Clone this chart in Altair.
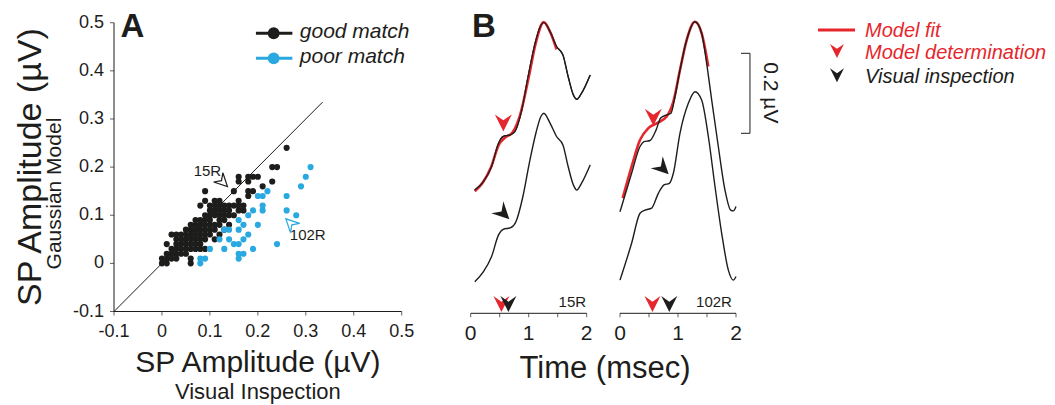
import altair as alt
import pandas as pd

FONT = "Liberation Sans"
BLACK = "#1d1d1b"
BLUE = "#29a9e0"
RED = "#e5272d"
CHEVRON = "M-1,-1L0,1L1,-1L0,-0.3Z"

# ---------------- data: panel A ----------------
good_x = [0.00, 0.00, 0.01, 0.01, 0.01, 0.01, 0.02, 0.02, 0.02, 0.02,
          0.03, 0.03, 0.03, 0.03, 0.03, 0.03, 0.04, 0.04, 0.04, 0.04, 0.04,
          0.05, 0.05, 0.05, 0.05, 0.05, 0.05,
          0.06, 0.06, 0.06, 0.06, 0.06, 0.06, 0.06, 0.06,
          0.07, 0.07, 0.07, 0.07, 0.07, 0.07, 0.07,
          0.08, 0.08, 0.08, 0.08, 0.08, 0.08, 0.08, 0.08,
          0.09, 0.09, 0.09, 0.09, 0.09, 0.09, 0.09, 0.09, 0.09,
          0.10, 0.10, 0.10, 0.10, 0.10, 0.10, 0.10,
          0.11, 0.11, 0.11, 0.11, 0.11, 0.11, 0.11,
          0.12, 0.12, 0.12, 0.12, 0.12, 0.12, 0.12,
          0.13, 0.13, 0.13, 0.13, 0.13,
          0.14, 0.14, 0.14, 0.14,
          0.15, 0.15, 0.15,
          0.16, 0.16, 0.16, 0.16, 0.16,
          0.17, 0.17,
          0.18, 0.18, 0.18, 0.18,
          0.19, 0.19, 0.20, 0.21, 0.23, 0.23, 0.24, 0.26]
good_y = [0.00, 0.01, 0.00, 0.01, 0.02, 0.04, 0.01, 0.02, 0.03, 0.06,
          0.01, 0.02, 0.03, 0.04, 0.05, 0.06, 0.02, 0.03, 0.04, 0.05, 0.06,
          0.02, 0.03, 0.04, 0.05, 0.06, 0.07,
          0.00, 0.01, 0.03, 0.04, 0.05, 0.06, 0.07, 0.08,
          0.03, 0.04, 0.05, 0.06, 0.07, 0.08, 0.09,
          0.03, 0.04, 0.05, 0.06, 0.07, 0.08, 0.09, 0.12,
          0.03, 0.05, 0.06, 0.07, 0.08, 0.09, 0.10, 0.13, 0.15,
          0.06, 0.07, 0.08, 0.09, 0.10, 0.11, 0.12,
          0.05, 0.07, 0.08, 0.10, 0.11, 0.12, 0.13,
          0.06, 0.08, 0.09, 0.10, 0.11, 0.12, 0.13,
          0.07, 0.09, 0.10, 0.11, 0.12,
          0.08, 0.10, 0.11, 0.12,
          0.10, 0.12, 0.15,
          0.11, 0.12, 0.13, 0.17, 0.18,
          0.11, 0.12,
          0.14, 0.15, 0.17, 0.18,
          0.15, 0.18, 0.18, 0.16, 0.17, 0.20, 0.20, 0.24]
poor_x = [0.08, 0.08, 0.09, 0.10, 0.12, 0.13, 0.13, 0.14, 0.14, 0.15, 0.16, 0.16,
          0.16, 0.16, 0.16, 0.17, 0.17, 0.17, 0.18, 0.18, 0.19, 0.19, 0.20, 0.20,
          0.21, 0.21, 0.21, 0.22, 0.24, 0.26, 0.26, 0.28, 0.29, 0.30, 0.31]
poor_y = [0.00, 0.01, 0.01, 0.03, 0.05, 0.03, 0.07, 0.07, 0.05, 0.04, 0.07, 0.04,
          0.01, 0.02, 0.09, 0.08, 0.05, 0.02, 0.06, 0.10, 0.03, 0.11, 0.08, 0.14,
          0.11, 0.12, 0.14, 0.15, 0.04, 0.11, 0.14, 0.10, 0.16, 0.18, 0.20]
identity_line = [-0.1, 0.335]
ticks_a = [-0.1, 0, 0.1, 0.2, 0.3, 0.4, 0.5]
tick_labels_a = ["-0.1", "0", "0.1", "0.2", "0.3", "0.4", "0.5"]

# ---------------- data: panel B ----------------
t15_top = [0.07, 0.22, 0.36, 0.48, 0.56, 0.68, 0.76, 0.88, 0.99, 1.11, 1.2, 1.26,
           1.37, 1.48, 1.59, 1.68, 1.77, 1.83, 1.91, 2.06]
v15_top = [0.308, 0.329, 0.367, 0.425, 0.442, 0.446, 0.454, 0.508, 0.592, 0.675, 0.717, 0.727,
           0.704, 0.667, 0.646, 0.592, 0.546, 0.535, 0.55, 0.596]
t15_fit = [0.07, 0.2, 0.35, 0.48, 0.6, 0.72, 0.85, 1.0, 1.12, 1.26, 1.38, 1.48]
v15_fit = [0.305, 0.325, 0.365, 0.42, 0.44, 0.452, 0.495, 0.59, 0.675, 0.728, 0.70, 0.66]
t15_bot = [0.07, 0.22, 0.36, 0.48, 0.56, 0.69, 0.78, 0.9, 1.01, 1.13, 1.21, 1.26,
           1.37, 1.48, 1.59, 1.68, 1.77, 1.83, 1.91, 2.06]
v15_bot = [0.079, 0.104, 0.142, 0.196, 0.21, 0.214, 0.229, 0.292, 0.375, 0.454, 0.492, 0.5,
           0.475, 0.442, 0.421, 0.367, 0.321, 0.308, 0.325, 0.371]
t102_top = [0.0, 0.2, 0.345, 0.414, 0.517, 0.621, 0.701, 0.805, 0.879, 0.948, 1.034, 1.149,
            1.293, 1.408, 1.494, 1.581, 1.695, 1.81, 1.908, 1.954, 2.0]
v102_top = [0.254, 0.35, 0.417, 0.429, 0.432, 0.458, 0.488, 0.496, 0.5, 0.542, 0.608, 0.683,
            0.729, 0.7, 0.625, 0.533, 0.417, 0.308, 0.258, 0.256, 0.267]
t102_fit = [0.046, 0.2, 0.345, 0.489, 0.632, 0.805, 0.92, 1.034, 1.149, 1.293, 1.408, 1.523]
v102_fit = [0.288, 0.367, 0.433, 0.463, 0.475, 0.492, 0.529, 0.608, 0.683, 0.729, 0.70, 0.617]
t102_bot = [0.0, 0.2, 0.345, 0.431, 0.546, 0.661, 0.759, 0.851, 0.92, 1.034, 1.178, 1.293,
            1.408, 1.523, 1.638, 1.753, 1.868, 1.954, 2.0]
v102_bot = [0.083, 0.175, 0.25, 0.258, 0.263, 0.3, 0.321, 0.325, 0.35, 0.45, 0.525, 0.554,
            0.533, 0.442, 0.317, 0.2, 0.108, 0.083, 0.092]
ticks_b = [0, 0.5, 1, 1.5, 2]
tick_labels_b = [0, 1, 2]
model_time = [0.53, 0.56]      # 15R, 102R
visual_time = [0.65, 0.85]     # 15R, 102R
scale_bar = [0.45, 0.65]       # 0.2 uV

# ---------------- scales (pixel ranges) ----------------
A_X = dict(domain=[-0.1, 0.5], range=[106, 393.7])
A_Y = dict(domain=[-0.1, 0.5], range=[303.5, 14.7])
BL_X = dict(domain=[0, 2], range=[462.7, 578.7])
BR_X = dict(domain=[0, 2], range=[612, 728])
B_Y = dict(domain=[0, 0.8], range=[305.3, -14.7])


def enc(xs, ys, x2=False, y2=False, text=False):
    e = dict(
        x=alt.X("x:Q", scale=alt.Scale(nice=False, zero=False, **xs), axis=None),
        y=alt.Y("y:Q", scale=alt.Scale(nice=False, zero=False, **ys), axis=None),
    )
    if x2:
        e["x2"] = alt.X2("x2:Q")
    if y2:
        e["y2"] = alt.Y2("y2:Q")
    if text:
        e["text"] = alt.Text("label:N")
    return e


def df(**cols):
    return pd.DataFrame(cols)


def txt(data, xs, ys, **kw):
    base = dict(font=FONT, color=BLACK)
    base.update(kw)
    return alt.Chart(data).mark_text(**base).encode(**enc(xs, ys, text=True))


layers = []

# ---- Panel A ----
layers.append(alt.Chart(df(x=[identity_line[0]], x2=[identity_line[1]],
                           y=[identity_line[0]], y2=[identity_line[1]]))
              .mark_rule(color=BLACK, strokeWidth=1).encode(**enc(A_X, A_Y, x2=True, y2=True)))
layers.append(alt.Chart(df(x=good_x, y=good_y)).mark_circle(size=38, color=BLACK, opacity=1)
              .encode(**enc(A_X, A_Y)))
layers.append(alt.Chart(df(x=poor_x, y=poor_y)).mark_circle(size=38, color=BLUE, opacity=1)
              .encode(**enc(A_X, A_Y)))
# axes A
layers.append(alt.Chart(df(x=[-0.1], x2=[0.5], y=[-0.1])).mark_rule(color=BLACK, strokeWidth=1)
              .encode(**enc(A_X, A_Y, x2=True)))
layers.append(alt.Chart(df(x=[-0.1], y=[-0.1], y2=[0.5])).mark_rule(color=BLACK, strokeWidth=1)
              .encode(**enc(A_X, A_Y, y2=True)))
layers.append(alt.Chart(df(x=ticks_a, y=[-0.1] * len(ticks_a)))
              .mark_tick(orient="vertical", size=4, thickness=1, yOffset=2, color=BLACK)
              .encode(**enc(A_X, A_Y)))
layers.append(alt.Chart(df(x=[-0.1] * len(ticks_a), y=ticks_a))
              .mark_tick(orient="horizontal", size=4, thickness=1, xOffset=-2, color=BLACK)
              .encode(**enc(A_X, A_Y)))
layers.append(txt(df(x=ticks_a, y=[-0.1] * len(ticks_a), label=tick_labels_a), A_X, A_Y,
                  fontSize=18, dy=20, align="center", baseline="middle"))
layers.append(txt(df(x=[-0.1] * len(ticks_a), y=ticks_a, label=tick_labels_a), A_X, A_Y,
                  fontSize=18, dx=-10, align="right", baseline="middle"))
layers.append(txt(df(x=[0.2], y=[-0.1], label=["SP Amplitude (µV)"]), A_X, A_Y,
                  fontSize=30, dy=60, align="center", baseline="alphabetic"))
layers.append(txt(df(x=[0.2], y=[-0.1], label=["Visual Inspection"]), A_X, A_Y,
                  fontSize=22, dy=87, align="center", baseline="alphabetic"))
layers.append(txt(df(x=[-0.273], y=[0.2], label=["SP Amplitude (µV)"]), A_X, A_Y,
                  fontSize=34, angle=270, align="center", baseline="middle"))
layers.append(txt(df(x=[-0.223], y=[0.145], label=["Gaussian Model"]), A_X, A_Y,
                  fontSize=21, angle=270, align="center", baseline="middle"))
layers.append(txt(df(x=[-0.0615], y=[0.471], label=["A"]), A_X, A_Y,
                  fontSize=33, fontWeight="bold", align="center", baseline="alphabetic"))
# legend A
for col, yy, name in [(BLACK, 0.478, "good match"), (BLUE, 0.426, "poor match")]:
    layers.append(alt.Chart(df(x=[0.196], x2=[0.272], y=[yy])).mark_rule(color=col, strokeWidth=3)
                  .encode(**enc(A_X, A_Y, x2=True)))
    layers.append(alt.Chart(df(x=[0.233], y=[yy])).mark_circle(size=140, color=col, opacity=1)
                  .encode(**enc(A_X, A_Y)))
    layers.append(txt(df(x=[0.2875], y=[yy - 0.0104], label=[name]), A_X, A_Y,
                      fontSize=21, fontStyle="italic", align="left", baseline="alphabetic"))
# annotations A
layers.append(txt(df(x=[0.0948], y=[0.191], label=["15R"]), A_X, A_Y,
                  fontSize=15, align="center", baseline="middle"))
layers.append(txt(df(x=[0.304], y=[0.058], label=["102R"]), A_X, A_Y,
                  fontSize=15, align="center", baseline="middle"))
layers.append(alt.Chart(df(x=[0.127], y=[0.169]))
              .mark_point(shape=CHEVRON, size=170, angle=315, filled=False, color=BLACK, strokeWidth=1.2, opacity=1)
              .encode(**enc(A_X, A_Y)))
layers.append(alt.Chart(df(x=[0.268], y=[0.083]))
              .mark_point(shape=CHEVRON, size=170, angle=135, filled=False, color=BLUE, strokeWidth=1.2, opacity=1)
              .encode(**enc(A_X, A_Y)))

# ---- Panel B ----
def trace(t, v, xs, col, w):
    return (alt.Chart(df(x=t, y=v)).mark_line(color=col, strokeWidth=w, interpolate="monotone")
            .encode(**enc(xs, B_Y)))


layers.append(trace(t15_top, v15_top, BL_X, BLACK, 1.4))
layers.append(trace(t15_fit, v15_fit, BL_X, RED, 2.6))
layers.append(trace(t15_top, v15_top, BL_X, BLACK, 1.2))
layers.append(trace(t15_bot, v15_bot, BL_X, BLACK, 1.4))
layers.append(trace(t102_fit, v102_fit, BR_X, RED, 2.6))
layers.append(trace(t102_top, v102_top, BR_X, BLACK, 1.4))
layers.append(trace(t102_bot, v102_bot, BR_X, BLACK, 1.4))


def arrow(xs, t, v, col, ang, size):
    return (alt.Chart(df(x=[t], y=[v]))
            .mark_point(shape=CHEVRON, size=size, angle=ang, filled=True, color=col, opacity=1, strokeWidth=0)
            .encode(**enc(xs, B_Y)))


layers.append(arrow(BL_X, 0.563, 0.476, RED, 0, 289))
layers.append(arrow(BL_X, 0.563, 0.25, BLACK, 315, 289))
layers.append(arrow(BR_X, 0.575, 0.49, RED, 0, 289))
layers.append(arrow(BR_X, 0.736, 0.3625, BLACK, 315, 289))
for xs, mt, vt in [(BL_X, model_time[0], visual_time[0]), (BR_X, model_time[1], visual_time[1])]:
    layers.append(arrow(xs, mt, 0.023, RED, 0, 256))
    layers.append(arrow(xs, vt, 0.023, BLACK, 0, 256))
    layers.append(alt.Chart(df(x=[0], x2=[2], y=[0])).mark_rule(color=BLACK, strokeWidth=1)
                  .encode(**enc(xs, B_Y, x2=True)))
    layers.append(alt.Chart(df(x=ticks_b, y=[0] * len(ticks_b)))
                  .mark_tick(orient="vertical", size=4, thickness=1, yOffset=2, color=BLACK)
                  .encode(**enc(xs, B_Y)))
    layers.append(txt(df(x=tick_labels_b, y=[0] * 3, label=[str(v) for v in tick_labels_b]), xs, B_Y,
                      fontSize=21, dy=21, align="center", baseline="middle"))
layers.append(txt(df(x=[1.99], y=[0.017], label=["15R"]), BL_X, B_Y,
                  fontSize=15, align="right", baseline="alphabetic"))
layers.append(txt(df(x=[1.93], y=[0.017], label=["102R"]), BR_X, B_Y,
                  fontSize=15, align="right", baseline="alphabetic"))
layers.append(txt(df(x=[2.316], y=[0], label=["Time (msec)"]), BL_X, B_Y,
                  fontSize=31, dy=64.7, align="center", baseline="alphabetic"))
layers.append(txt(df(x=[0.229], y=[0.6915], label=["B"]), BL_X, B_Y,
                  fontSize=33, fontWeight="bold", align="center", baseline="alphabetic"))
# scale bar
layers.append(alt.Chart(df(x=[2.241], y=[scale_bar[0]], y2=[scale_bar[1]])).mark_rule(color=BLACK, strokeWidth=1)
              .encode(**enc(BR_X, B_Y, y2=True)))
layers.append(alt.Chart(df(x=[2.086, 2.086], x2=[2.241, 2.241], y=scale_bar)).mark_rule(color=BLACK, strokeWidth=1)
              .encode(**enc(BR_X, B_Y, x2=True)))
layers.append(txt(df(x=[2.586], y=[0.551], label=["0.2 µV"]), BR_X, B_Y,
                  fontSize=21, angle=90, align="center", baseline="middle"))
# legend B
layers.append(alt.Chart(df(x=[3.414], x2=[4.052], y=[0.708])).mark_rule(color=RED, strokeWidth=3)
              .encode(**enc(BR_X, B_Y, x2=True)))
layers.append(arrow(BR_X, 3.741, 0.656, RED, 0, 196))
layers.append(arrow(BR_X, 3.741, 0.595, BLACK, 0, 196))
layers.append(txt(df(x=[4.224], y=[0.69], label=["Model fit"]), BR_X, B_Y, color=RED,
                  fontSize=20, fontStyle="italic", align="left", baseline="alphabetic"))
layers.append(txt(df(x=[4.224], y=[0.635], label=["Model determination"]), BR_X, B_Y, color=RED,
                  fontSize=20, fontStyle="italic", align="left", baseline="alphabetic"))
layers.append(txt(df(x=[4.224], y=[0.575], label=["Visual inspection"]), BR_X, B_Y,
                  fontSize=20, fontStyle="italic", align="left", baseline="alphabetic"))

chart = (alt.layer(*layers)
         .resolve_scale(x="independent", y="independent")
         .properties(width=1039, height=397, padding=0,
                     autosize=alt.AutoSizeParams(type="none"))
         .configure_view(stroke=None))

chart.save("out.html", embed_options={"renderer": "svg", "actions": False})
